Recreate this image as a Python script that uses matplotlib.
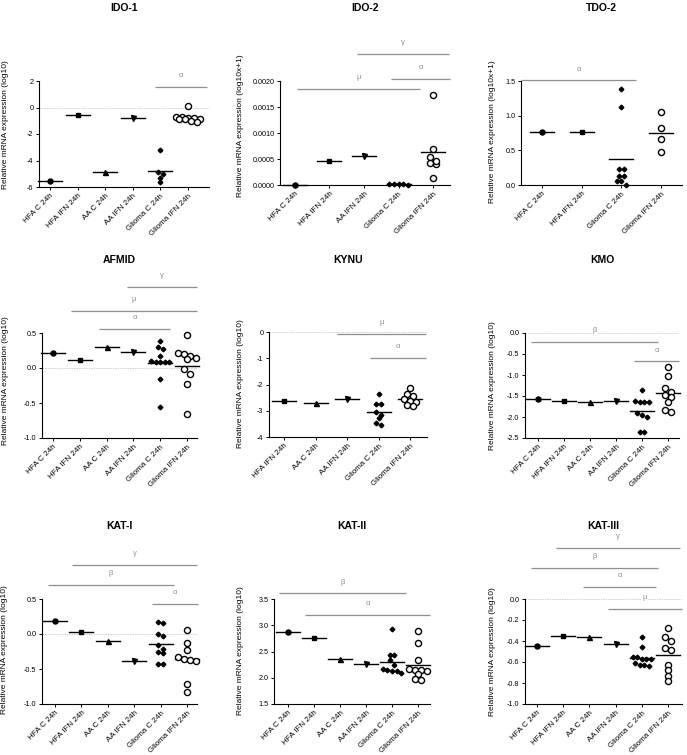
import numpy as np
import matplotlib
matplotlib.use("Agg")
import matplotlib.pyplot as plt
from matplotlib.ticker import FormatStrFormatter

plt.rcParams['font.family'] = ['Liberation Sans', 'DejaVu Sans']
plt.rcParams['axes.unicode_minus'] = False

W, H = 687, 755

# ---- groups ----
groups_all = ["HFA C 24h", "HFA IFN 24h", "AA C 24h", "AA IFN 24h",
              "Glioma C 24h", "Glioma IFN 24h"]
groups_ido2 = ["HFA C 24h", "HFA IFN 24h", "AA IFN 24h",
               "Glioma C 24h", "Glioma IFN 24h"]
groups_tdo2 = ["HFA C 24h", "HFA IFN 24h", "Glioma C 24h", "Glioma IFN 24h"]
groups_kynu = ["HFA IFN 24h", "AA C 24h", "AA IFN 24h",
               "Glioma C 24h", "Glioma IFN 24h"]

# ---- values ----
ido1 = [[-5.55], [-0.6], [-4.9], [-0.8],
        [-3.2, -4.9, -5.05, -5.3, -5.65],
        [0.15, -0.75, -0.75, -0.8, -0.8, -0.85, -0.85, -0.9, -1.0, -1.1]]
ido2 = [[0.0], [0.00047], [0.00056],
        [0.00002, 0.00001, 0.0, 0.00001, 0.00001],
        [0.00174, 0.00069, 0.00053, 0.00043, 0.00040, 0.000465, 0.00013]]
tdo2 = [[0.77], [0.77],
        [1.39, 1.12, 0.23, 0.23, 0.13, 0.13, 0.06, 0.06, 0.0],
        [1.06, 0.82, 0.66, 0.48]]
afmid = [[0.21], [0.12], [0.30], [0.225],
         [0.39, 0.30, 0.27, 0.17, 0.10, 0.08, 0.08, 0.08, 0.08, -0.15, -0.55],
         [0.47, 0.21, 0.20, 0.17, 0.15, 0.13, -0.02, -0.08, -0.23, -0.65]]
kynu = [[-2.62], [-2.70], [-2.54],
        [-2.35, -2.75, -2.75, -3.05, -3.15, -3.27, -3.48, -3.55],
        [-2.12, -2.37, -2.45, -2.55, -2.62, -2.65, -2.78, -2.82]]
kmo = [[-1.58], [-1.61], [-1.65], [-1.63],
       [-1.35, -1.62, -1.65, -1.65, -1.65, -1.9, -1.95, -2.0, -2.35, -2.35],
       [-0.8, -1.03, -1.3, -1.4, -1.48, -1.52, -1.65, -1.83, -1.88]]
kat1 = [[0.185], [0.035], [-0.10], [-0.38],
        [0.17, 0.16, 0.0, -0.03, -0.16, -0.21, -0.25, -0.27, -0.43, -0.43],
        [0.06, -0.13, -0.23, -0.33, -0.35, -0.37, -0.38, -0.71, -0.83]]
kat2 = [[2.87], [2.755], [2.355], [2.26],
        [2.93, 2.44, 2.43, 2.33, 2.25, 2.17, 2.15, 2.13, 2.12, 2.10],
        [2.90, 2.66, 2.33, 2.16, 2.15, 2.14, 2.13, 2.07, 1.97, 1.95]]
kat3 = [[-0.452], [-0.357], [-0.366], [-0.424],
        [-0.36, -0.46, -0.55, -0.55, -0.57, -0.575, -0.575, -0.61, -0.63,
         -0.63, -0.64],
        [-0.28, -0.36, -0.40, -0.47, -0.49, -0.63, -0.68, -0.73, -0.78]]

LOG10 = "Relative mRNA expression (log10)"
LOG10X = "Relative mRNA expression (log10x+1)"

# significance bars: (from, to, y, symbol) in data units
sig_ido1 = [(3.8, 5.69, 1.55, "α")]
sig_ido2 = [(1.8, 4.46, 0.00252, "γ"), (0.06, 3.62, 0.00185, "μ"),
            (2.78, 4.49, 0.00204, "α")]
sig_tdo2 = [(-0.53, 2.37, 1.51, "α")]
sig_afmid = [(2.76, 5.37, 1.157, "γ"), (0.67, 5.37, 0.814, "μ"),
             (1.72, 4.37, 0.557, "α")]
sig_kynu = [(1.68, 4.51, -0.08, "μ"), (2.73, 4.51, -0.99, "α")]
sig_kmo = [(-0.27, 4.62, -0.21, "β"), (3.69, 5.42, -0.67, "α")]
sig_kat1 = [(0.64, 5.38, 0.986, "γ"), (-0.27, 4.51, 0.70, "β"),
            (3.67, 5.42, 0.43, "α")]
sig_kat2 = [(-0.35, 4.54, 3.61, "β"), (0.65, 5.46, 3.20, "α")]
sig_kat3 = [(0.73, 5.46, 0.486, "γ"), (-0.23, 4.62, 0.295, "β"),
            (1.76, 4.54, 0.114, "α"), (2.71, 5.53, -0.095, "μ")]

# ---- layout (pixels): axes box [left, top, right, bottom], xlim, title y,
#      ylabel centre, y ticks, tick format ----
panels = [
    ("IDO-1", LOG10, groups_all, ido1, sig_ido1, [39, 81, 209, 187],
     (-0.40, 5.76), 8, (6, 125), (-6, 2, 2), "%d"),
    ("IDO-2", LOG10X, groups_ido2, ido2, sig_ido2, [280, 81, 450, 185],
     (-0.43, 4.49), 8, (240, 126), (0, 0.002, 0.0005), "%.4f"),
    ("TDO-2", LOG10X, groups_tdo2, tdo2, sig_tdo2, [521, 81, 682, 185],
     (-0.53, 3.53), 8, (492, 132), (0, 1.5, 0.5), "%.1f"),
    ("AFMID", LOG10, groups_all, afmid, sig_afmid, [42, 333, 197, 438],
     (-0.41, 5.37), 260, (6, 381), (-1.0, 0.5, 0.5), "%.1f"),
    ("KYNU", LOG10, groups_kynu, kynu, sig_kynu, [269, 332, 427, 437],
     (-0.48, 4.54), 260, (240, 384), (-4, 0, 1), "%d"),
    ("KMO", LOG10, groups_all, kmo, sig_kmo, [525, 333, 679, 438],
     (-0.50, 5.42), 260, (492, 386), (-2.5, 0.0, 0.5), "%.1f"),
    ("KAT-I", LOG10, groups_all, kat1, sig_kat1, [42, 599, 197, 704],
     (-0.49, 5.38), 526, (5, 650), (-1.0, 0.5, 0.5), "%.1f"),
    ("KAT-II", LOG10, groups_all, kat2, sig_kat2, [274, 599, 430, 704],
     (-0.54, 5.46), 526, (240, 651), (1.5, 3.5, 0.5), "%.1f"),
    ("KAT-III", LOG10, groups_all, kat3, sig_kat3, [525, 599, 682, 704],
     (-0.46, 5.53), 526, (492, 652), (-1.0, 0.0, 0.2), "%.1f"),
]

marker_style = {
    "HFA C 24h": dict(marker="o", ms=3.6, mfc="black", mec="black"),
    "HFA IFN 24h": dict(marker="s", ms=3.4, mfc="black", mec="black"),
    "AA C 24h": dict(marker="^", ms=3.6, mfc="black", mec="black"),
    "AA IFN 24h": dict(marker="v", ms=3.6, mfc="black", mec="black"),
    "Glioma C 24h": dict(marker="D", ms=2.4, mfc="black", mec="black"),
    "Glioma IFN 24h": dict(marker="o", ms=4.4, mfc="white", mec="black",
                           mew=1.0),
}
SIG_COLOR = "#8f8f8f"


def swarm(ax, x, vals, spacing_px, row_px=4.5, max_row=5):
    """Spread points of similar value side by side, centred on x."""
    vals = np.asarray(vals, dtype=float)
    ys = ax.transData.transform(np.column_stack([np.full(len(vals), x), vals]))[:, 1]
    order = np.argsort(-vals, kind="stable")
    rows = []
    for i in order:
        if rows and abs(ys[rows[-1][0]] - ys[i]) < row_px and len(rows[-1]) < max_row:
            rows[-1].append(i)
        else:
            rows.append([i])
    ppu = ax.transData.transform((1, 0))[0] - ax.transData.transform((0, 0))[0]
    xs = np.full(len(vals), float(x))
    for r in rows:
        for j, i in enumerate(r):
            xs[i] = x + (j - (len(r) - 1) / 2) * spacing_px / ppu
    return xs, ppu


fig = plt.figure(figsize=(W / 100, H / 100), dpi=100)

for (title, ylab, groups, values, sigs, box, xlim, ty, ylab_pos,
     yrange, fmt) in panels:
    l, t, r, b = box
    lo, hi, step = yrange
    yticks = np.round(np.arange(lo, hi + step / 2, step), 6) + 0.0
    ax = fig.add_axes([l / W, 1 - b / H, (r - l) / W, (b - t) / H])
    ax.set_xlim(*xlim)
    ax.set_ylim(lo, hi)
    ax.set_yticks(yticks)
    ax.yaxis.set_major_formatter(FormatStrFormatter(fmt))
    ax.set_xticks(range(len(groups)))
    ax.set_xticklabels(groups, rotation=45, ha="right", va="top",
                       rotation_mode="anchor", fontsize=5.8)
    ax.tick_params(axis="y", labelsize=5.2, length=2.5, width=0.7, pad=1.5)
    ax.tick_params(axis="x", length=2, width=0.7, pad=2)
    for side in ("top", "right"):
        ax.spines[side].set_visible(False)
    for side in ("left", "bottom"):
        ax.spines[side].set_linewidth(0.8)

    if lo < 0 <= hi:
        ax.axhline(0, color="#cfcfcf", lw=0.7, ls=(0, (1.5, 1)), zorder=0)

    for k, (g, v) in enumerate(zip(groups, values)):
        st = marker_style[g]
        sp = 6.0 if g == "Glioma IFN 24h" else 4.6
        xs, ppu = swarm(ax, k, v, sp)
        ax.plot(xs, v, ls="none", clip_on=False, zorder=3, **st)
        hw = 12 / ppu
        m = np.mean(v)
        ax.plot([k - hw, k + hw], [m, m], color="black", lw=1.0,
                zorder=2, clip_on=False)

    for x0, x1, y, lab in sigs:
        ax.plot([x0, x1], [y, y], color=SIG_COLOR, lw=0.9, clip_on=False,
                solid_capstyle="butt")
        ax.annotate(lab, xy=((x0 + x1) / 2, y), xytext=(0, 8),
                    textcoords="offset points", ha="center", va="center",
                    fontsize=5.5, color=SIG_COLOR, annotation_clip=False,
                    bbox=dict(fc="white", ec="none", pad=0.3))

    fig.text((l + r) / 2 / W, 1 - ty / H, title, ha="center", va="center",
             fontsize=7.5, fontweight="bold")
    fig.text(ylab_pos[0] / W, 1 - ylab_pos[1] / H, ylab, rotation=90,
             ha="center", va="center", fontsize=6)

fig.savefig("out.png", dpi=100)
